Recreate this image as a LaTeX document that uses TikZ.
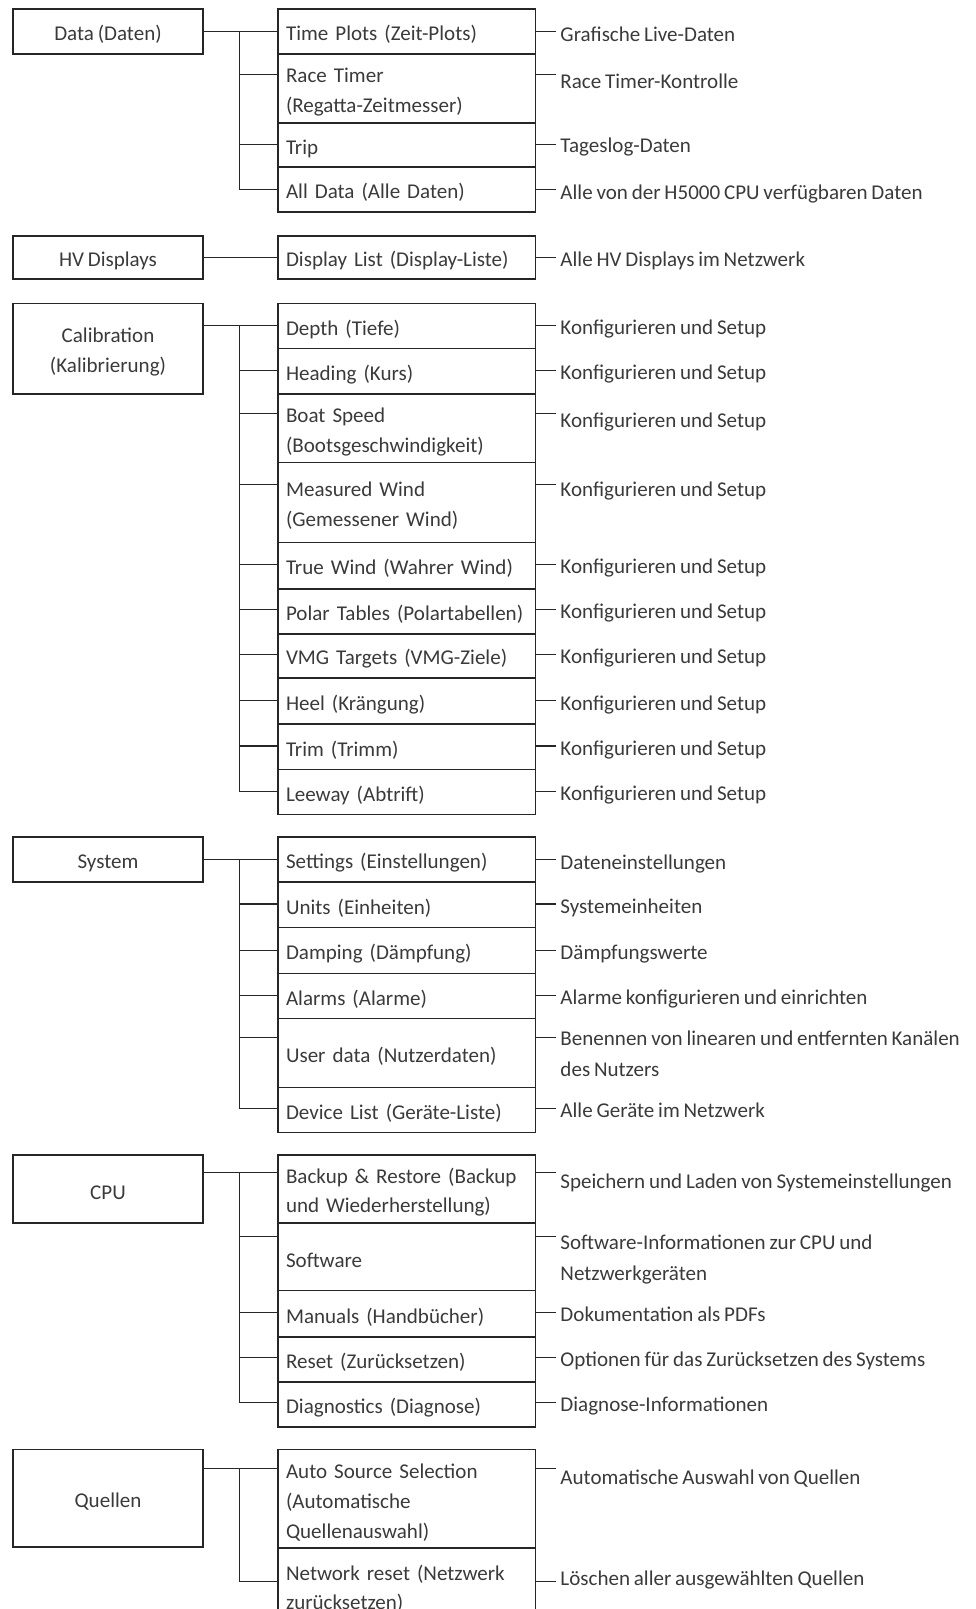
\documentclass[tikz,border=0pt]{standalone}
\usepackage{fontspec}
\setmainfont{Carlito}[WordSpace=0.8]
\definecolor{ink}{HTML}{3A3A3A}
\definecolor{frame}{HTML}{262626}
\newcommand\padtop{\rule{0pt}{21pt}}

\begin{document}
\begin{tikzpicture}[x=1pt,y=-1pt,
  every node/.style={text=ink, font=\fontsize{20.5}{29}\selectfont},
  topbox/.style={draw=frame, line width=1.5pt, anchor=north west,
    minimum width=185pt, align=center, inner sep=0pt},
  subbox/.style={draw=frame, line width=1.5pt, anchor=north west,
    text width=235pt, align=left, inner xsep=8pt, inner ysep=0pt},
  desc/.style={anchor=base west, align=left, inner sep=0pt,
    font=\fontsize{20.5}{30}\selectfont},
  link/.style={draw=frame, line width=1.1pt}]

  \clip (0,0) rectangle (951,1568);

  % menu column
  \node[topbox, minimum height=44pt] (data) at (12,8)    {\padtop Data (Daten)};
  \node[topbox, minimum height=42pt] (hv)   at (12,229)  {\padtop HV Displays};
  \node[topbox, minimum height=88pt] (cal)  at (12,295)  {\padtop Calibration\\(Kalibrierung)};
  \node[topbox, minimum height=44pt] (sys)  at (12,815)  {\padtop System};
  \node[topbox, minimum height=66pt] (cpu)  at (12,1125) {\padtop CPU};
  \node[topbox, minimum height=95pt] (src)  at (12,1412) {\padtop Quellen};

  % sub menus: top/bottom/name/label/branch y/baseline of last line/description
  \foreach \t/\b/\id/\txt/\by/\dy/\dtxt in {
      8/52/dat1/{Time Plots (Zeit-Plots)}/31/40/{Grafische Live-Daten},
      52/119/dat2/{Race Timer\\(Regatta-Zeitmesser)}/73/86/{Race Timer-Kontrolle},
      119/162/dat3/{Trip}/141/149/{Tageslog-Daten},
      162/206/dat4/{All Data (Alle Daten)}/185/194/{Alle von der H5000 CPU verfügbaren Daten},
      229/271/hv1/{Display List (Display-Liste)}/251/260/{Alle HV Displays im Netzwerk},
      295/339/cal1/{Depth (Tiefe)}/317/326/{Konfigurieren und Setup},
      339/383/cal2/{Heading (Kurs)}/361/370/{Konfigurieren und Setup},
      383/450/cal3/{Boat Speed\\(Bootsgeschwindigkeit)}/403/417/{Konfigurieren und Setup},
      450/528/cal4/{Measured Wind\\(Gemessener Wind)}/472/484/{Konfigurieren und Setup},
      528/573/cal5/{True Wind (Wahrer Wind)}/550/559/{Konfigurieren und Setup},
      573/617/cal6/{Polar Tables (Polartabellen)}/594/603/{Konfigurieren und Setup},
      617/660/cal7/{VMG Targets (VMG-Ziele)}/638/647/{Konfigurieren und Setup},
      660/705/cal8/{Heel (Krängung)}/683/692/{Konfigurieren und Setup},
      705/749/cal9/{Trim (Trimm)}/727/736/{Konfigurieren und Setup},
      749/793/cal10/{Leeway (Abtrift)}/771/780/{Konfigurieren und Setup},
      815/859/sys1/{Settings (Einstellungen)}/838/847/{Dateneinstellungen},
      859/903/sys2/{Units (Einheiten)}/881/890/{Systemeinheiten},
      903/948/sys3/{Damping (Dämpfung)}/926/935/{Dämpfungswerte},
      948/992/sys4/{Alarms (Alarme)}/970/979/{Alarme konfigurieren und einrichten},
      992/1059/sys5/{User data (Nutzerdaten)}/1011/1049/{Benennen von linearen und entfernten Kanälen\\des Nutzers},
      1059/1103/sys6/{Device List (Geräte-Liste)}/1080/1089/{Alle Geräte im Netzwerk},
      1125/1191/cpu1/{Backup \& Restore (Backup\\und Wiederherstellung)}/1143/1158/{Speichern und Laden von Systemeinstellungen},
      1191/1257/cpu2/{Software}/1205/1248/{Software-Informationen zur CPU und\\Netzwerkgeräten},
      1257/1302/cpu3/{Manuals (Handbücher)}/1279/1288/{Dokumentation als PDFs},
      1302/1346/cpu4/{Reset (Zurücksetzen)}/1323/1332/{Optionen für das Zurücksetzen des Systems},
      1346/1390/cpu5/{Diagnostics (Diagnose)}/1367/1376/{Diagnose-Informationen},
      1412/1508/src1/{Auto Source Selection\\(Automatische\\Quellenauswahl)}/1431/1447/{Automatische Auswahl von Quellen},
      1508/1581/src2/{Network reset (Netzwerk\\zurücksetzen)}/1541/1545/{Löschen aller ausgewählten Quellen}}
  {
    \node[subbox, minimum height={\b-\t}] (\id) at (270,\t) {\padtop\txt};
    \coordinate (\id-j) at (233,\by);
    \draw[link] (\id-j) -- (\id-j -| \id.west);
    \draw[link] (\id-j -| \id.east) -- ++(19,0);
    \node[desc] (\id-d) at (546,\dy) {\dtxt};
  }

  % trunks from each menu entry
  \draw[link] (data.east |- dat1-j) -- (dat1-j) -- (dat4-j);
  \draw[link] (hv.east |- hv1-j) -- (hv1-j);
  \draw[link] (cal.east |- cal1-j) -- (cal1-j) -- (cal10-j);
  \draw[link] (sys.east |- sys1-j) -- (sys1-j) -- (sys6-j);
  \draw[link] (cpu.east |- cpu1-j) -- (cpu1-j) -- (cpu5-j);
  \draw[link] (src.east |- src1-j) -- (src1-j) -- (src2-j);
\end{tikzpicture}
\end{document}
